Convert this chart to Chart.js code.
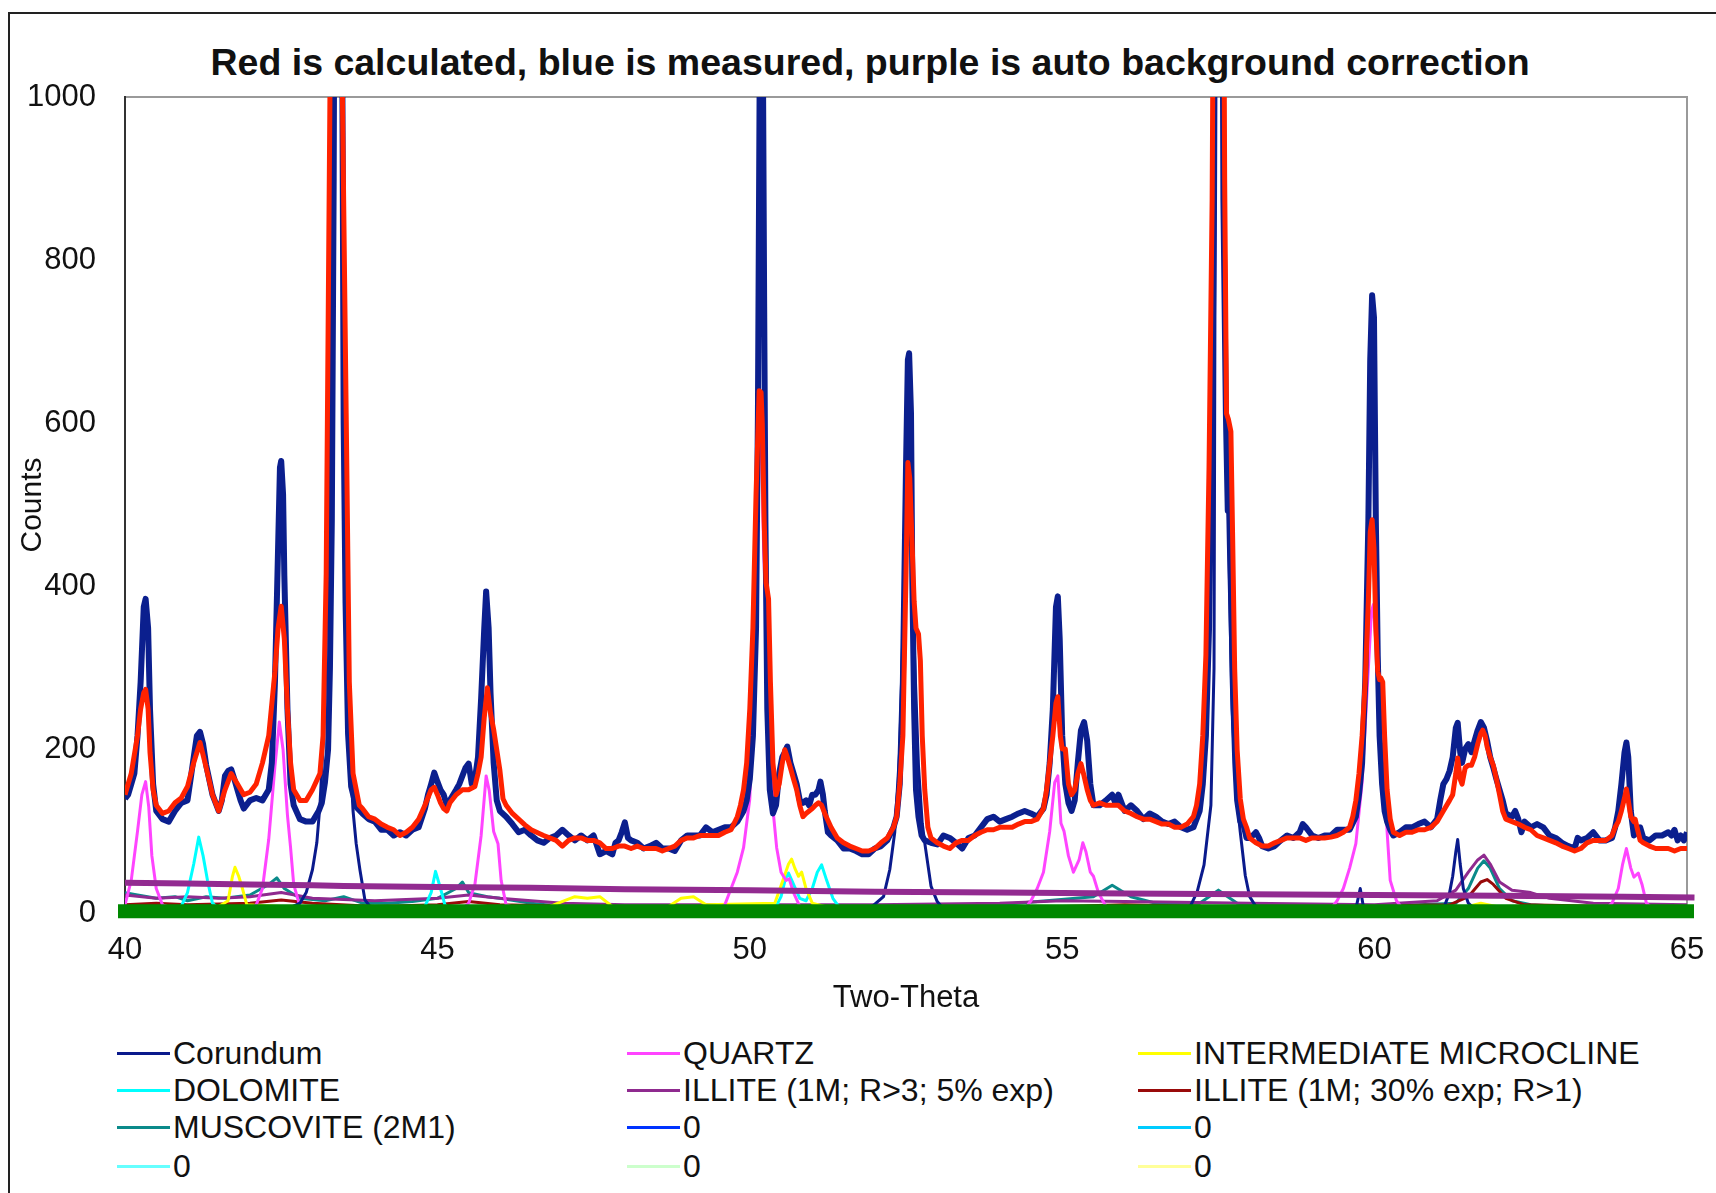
<!DOCTYPE html>
<html lang="en">
<head>
<meta charset="UTF-8">
<title>Two-Theta pattern fit</title>
<script src="https://cdn.jsdelivr.net/npm/chart.js"></script>
<style>
  body { margin: 0; background: #fff; font-family: 'Liberation Sans', Arial, sans-serif; color: #111; overflow: hidden; }
  .frame { position: absolute; left: 8px; top: 12px; width: 1720px; height: 1200px;
           border-left: 2px solid #222; border-top: 2px solid #222; }
  .title { position: absolute; left: 0; top: 41px; width: 1740px; text-align: center;
           font-weight: bold; font-size: 37.5px; line-height: 42px; }
  #wrap { position: absolute; left: 0; top: 0; width: 1716px; height: 1021px; }
  .item { position: absolute; height: 40px; line-height: 40px; font-size: 32px;
          white-space: nowrap; display: flex; align-items: center; }
  .item .swatch { width: 53px; height: 3px; margin-right: 3px; }
</style>
</head>
<body>
<div class="frame"></div>
<div class="title">Red is calculated, blue is measured, purple is auto background correction</div>
<div id="wrap"><canvas id="xrd"></canvas></div>
<div id="legend"></div>

<script>
// ---- data: [two-theta, counts] ----
const measured = [[40.0,140],[40.05,145],[40.1,158],[40.15,171],[40.2,217],[40.25,283],[40.3,375],[40.33,385],[40.37,349],[40.4,250],[40.45,158],[40.5,125],[40.6,115],[40.7,112],[40.8,125],[40.9,135],[41.0,138],[41.05,164],[41.1,191],[41.15,217],[41.2,222],[41.25,207],[41.3,181],[41.4,145],[41.5,125],[41.55,138],[41.6,168],[41.65,174],[41.7,176],[41.75,164],[41.8,151],[41.85,138],[41.9,128],[42.0,138],[42.1,141],[42.2,138],[42.3,151],[42.35,184],[42.4,283],[42.45,447],[42.48,546],[42.5,554],[42.53,513],[42.55,414],[42.6,250],[42.65,158],[42.7,132],[42.8,115],[42.9,112],[43.0,112],[43.1,125],[43.15,135],[43.2,160],[43.25,200],[43.28,300],[43.31,480],[43.34,900],[43.37,1600],[43.41,2500],[43.45,1600],[43.48,1000],[43.5,600],[43.53,380],[43.57,220],[43.62,155],[43.7,130],[43.8,122],[43.9,115],[44.0,112],[44.1,102],[44.2,102],[44.3,95],[44.4,99],[44.5,95],[44.6,102],[44.7,105],[44.8,128],[44.85,145],[44.9,158],[44.95,172],[45.0,161],[45.05,151],[45.1,145],[45.15,132],[45.2,138],[45.3,151],[45.35,158],[45.4,168],[45.45,178],[45.5,183],[45.55,158],[45.6,164],[45.65,191],[45.7,263],[45.75,349],[45.78,394],[45.82,349],[45.85,270],[45.9,184],[45.95,138],[46.0,125],[46.1,118],[46.2,109],[46.3,99],[46.4,102],[46.5,95],[46.6,89],[46.7,86],[46.8,92],[46.9,95],[47.0,102],[47.1,95],[47.2,89],[47.3,95],[47.4,89],[47.5,95],[47.6,72],[47.7,76],[47.8,72],[47.85,86],[47.9,89],[47.95,99],[48.0,111],[48.05,92],[48.1,89],[48.2,86],[48.3,79],[48.4,82],[48.5,86],[48.6,79],[48.7,79],[48.8,76],[48.9,89],[49.0,95],[49.1,95],[49.2,95],[49.3,105],[49.4,99],[49.5,102],[49.6,105],[49.7,105],[49.8,112],[49.9,125],[49.95,138],[50.0,164],[50.05,217],[50.1,349],[50.13,612],[50.17,1200],[50.2,1200],[50.23,743],[50.25,480],[50.28,250],[50.32,151],[50.37,122],[50.42,132],[50.47,171],[50.52,191],[50.56,197],[50.6,204],[50.65,184],[50.7,171],[50.75,158],[50.8,138],[50.85,135],[50.9,138],[50.95,132],[51.0,145],[51.05,145],[51.1,151],[51.13,161],[51.17,145],[51.2,125],[51.25,99],[51.3,95],[51.4,89],[51.5,79],[51.6,79],[51.7,76],[51.8,72],[51.9,72],[52.0,79],[52.1,82],[52.2,89],[52.3,105],[52.35,118],[52.4,158],[52.45,283],[52.5,546],[52.53,678],[52.55,686],[52.58,612],[52.6,414],[52.63,250],[52.66,151],[52.7,118],[52.75,95],[52.8,89],[52.9,86],[53.0,84],[53.1,95],[53.2,92],[53.3,86],[53.4,79],[53.5,92],[53.6,95],[53.7,105],[53.8,115],[53.9,118],[54.0,112],[54.1,115],[54.2,118],[54.3,122],[54.4,125],[54.5,122],[54.6,118],[54.7,128],[54.75,145],[54.8,184],[54.85,250],[54.9,375],[54.93,388],[54.96,336],[55.0,217],[55.05,158],[55.1,135],[55.15,125],[55.2,138],[55.25,184],[55.3,224],[55.35,234],[55.4,211],[55.45,158],[55.5,132],[55.6,132],[55.7,138],[55.8,145],[55.85,135],[55.9,145],[56.0,125],[56.1,132],[56.2,125],[56.3,115],[56.4,122],[56.5,118],[56.6,112],[56.7,109],[56.8,112],[56.9,105],[57.0,102],[57.1,105],[57.15,115],[57.2,125],[57.25,158],[57.3,217],[57.35,349],[57.4,612],[57.43,875],[57.46,1500],[57.5,2800],[57.55,1500],[57.58,875],[57.62,612],[57.65,493],[57.68,507],[57.7,415],[57.73,283],[57.77,184],[57.8,138],[57.85,112],[57.9,109],[57.95,92],[58.0,92],[58.05,95],[58.1,99],[58.15,92],[58.2,82],[58.3,79],[58.4,82],[58.5,89],[58.6,95],[58.7,92],[58.8,99],[58.85,109],[58.9,105],[59.0,95],[59.1,92],[59.2,95],[59.3,95],[59.4,102],[59.5,102],[59.6,102],[59.7,118],[59.75,145],[59.8,184],[59.85,283],[59.9,480],[59.93,678],[59.96,757],[59.99,730],[60.02,480],[60.05,316],[60.08,217],[60.12,158],[60.16,125],[60.2,112],[60.25,102],[60.3,95],[60.4,99],[60.5,105],[60.6,105],[60.7,109],[60.8,112],[60.9,105],[61.0,115],[61.05,138],[61.1,158],[61.15,164],[61.2,174],[61.25,191],[61.3,227],[61.33,233],[61.37,197],[61.4,184],[61.45,201],[61.5,207],[61.55,197],[61.6,211],[61.65,224],[61.7,234],[61.75,227],[61.8,211],[61.85,191],[61.9,178],[61.95,164],[62.0,151],[62.05,138],[62.1,122],[62.2,118],[62.25,125],[62.3,115],[62.35,99],[62.4,112],[62.5,105],[62.6,109],[62.7,105],[62.8,95],[62.9,92],[63.0,86],[63.1,82],[63.2,79],[63.25,92],[63.3,89],[63.4,92],[63.5,99],[63.6,89],[63.7,89],[63.8,92],[63.85,105],[63.9,125],[63.95,158],[64.0,197],[64.03,209],[64.06,191],[64.1,125],[64.15,95],[64.2,99],[64.25,105],[64.3,92],[64.4,89],[64.5,95],[64.6,95],[64.7,99],[64.75,95],[64.8,102],[64.85,89],[64.9,95],[64.95,89],[65.0,99]];

const calculated = [[40.0,145],[40.1,171],[40.2,217],[40.25,250],[40.3,270],[40.33,274],[40.37,250],[40.4,197],[40.45,151],[40.5,132],[40.6,122],[40.7,125],[40.8,135],[40.9,141],[41.0,155],[41.1,184],[41.2,209],[41.3,178],[41.4,145],[41.5,125],[41.6,151],[41.7,171],[41.8,158],[41.9,145],[42.0,148],[42.1,158],[42.2,184],[42.3,217],[42.4,296],[42.45,349],[42.5,376],[42.55,336],[42.6,250],[42.65,184],[42.7,151],[42.8,138],[42.9,138],[43.0,151],[43.12,171],[43.17,217],[43.22,415],[43.28,1000],[43.32,1600],[43.4,2600],[43.45,1500],[43.48,1000],[43.54,612],[43.59,283],[43.65,171],[43.75,132],[43.8,128],[43.9,118],[44.0,115],[44.1,109],[44.2,105],[44.3,102],[44.4,95],[44.5,99],[44.6,105],[44.7,115],[44.8,132],[44.9,151],[44.95,154],[45.0,145],[45.05,135],[45.1,128],[45.15,125],[45.2,135],[45.3,145],[45.4,151],[45.5,151],[45.6,155],[45.65,171],[45.7,191],[45.75,240],[45.8,276],[45.85,245],[45.9,225],[45.95,200],[46.0,175],[46.05,140],[46.1,132],[46.2,122],[46.3,115],[46.4,108],[46.5,102],[46.7,95],[46.9,89],[47.0,82],[47.1,89],[47.2,92],[47.3,92],[47.4,89],[47.5,89],[47.6,86],[47.7,79],[47.8,79],[47.9,82],[48.0,82],[48.1,79],[48.2,82],[48.3,79],[48.4,79],[48.5,79],[48.6,76],[48.7,79],[48.8,82],[48.9,89],[49.0,92],[49.1,92],[49.2,95],[49.3,95],[49.4,95],[49.5,95],[49.6,99],[49.7,102],[49.8,118],[49.85,132],[49.9,151],[49.95,184],[50.0,250],[50.05,349],[50.1,513],[50.15,640],[50.18,638],[50.2,599],[50.23,480],[50.26,405],[50.3,385],[50.33,283],[50.37,184],[50.42,145],[50.47,158],[50.52,184],[50.56,200],[50.6,191],[50.65,178],[50.7,164],[50.75,151],[50.8,132],[50.85,118],[50.9,122],[51.0,128],[51.05,132],[51.1,135],[51.15,132],[51.2,122],[51.3,105],[51.4,92],[51.5,86],[51.6,82],[51.7,79],[51.8,76],[51.9,76],[52.0,79],[52.1,86],[52.2,92],[52.3,105],[52.35,118],[52.4,158],[52.45,217],[52.5,415],[52.53,552],[52.56,533],[52.6,447],[52.63,382],[52.66,349],[52.7,342],[52.73,309],[52.76,217],[52.8,151],[52.85,105],[52.9,92],[53.0,86],[53.1,82],[53.2,79],[53.3,86],[53.4,89],[53.5,89],[53.6,95],[53.7,99],[53.8,102],[53.9,102],[54.0,105],[54.1,105],[54.2,105],[54.3,109],[54.4,112],[54.5,112],[54.6,115],[54.7,128],[54.75,151],[54.8,184],[54.85,217],[54.9,257],[54.93,265],[54.97,217],[55.0,201],[55.05,201],[55.1,158],[55.15,145],[55.2,151],[55.25,171],[55.3,183],[55.35,168],[55.4,151],[55.45,138],[55.5,132],[55.6,135],[55.7,132],[55.8,132],[55.9,132],[56.0,125],[56.1,122],[56.2,118],[56.3,115],[56.4,115],[56.5,112],[56.6,109],[56.7,109],[56.8,105],[56.9,105],[57.0,109],[57.1,118],[57.15,132],[57.2,158],[57.25,217],[57.3,316],[57.35,546],[57.4,875],[57.43,1300],[57.5,2800],[57.55,1800],[57.6,900],[57.63,612],[57.66,605],[57.7,590],[57.73,450],[57.76,300],[57.8,200],[57.85,140],[57.9,115],[57.95,105],[58.0,92],[58.1,86],[58.2,82],[58.3,82],[58.4,86],[58.5,89],[58.6,92],[58.7,92],[58.8,92],[58.9,89],[59.0,92],[59.1,92],[59.2,92],[59.3,93],[59.4,95],[59.5,99],[59.6,105],[59.65,118],[59.7,138],[59.75,171],[59.8,217],[59.85,283],[59.9,382],[59.93,467],[59.96,482],[59.99,447],[60.02,349],[60.05,296],[60.08,286],[60.1,288],[60.13,283],[60.16,217],[60.2,151],[60.25,115],[60.3,99],[60.4,95],[60.5,99],[60.6,99],[60.7,102],[60.8,102],[60.9,105],[61.0,112],[61.1,125],[61.2,138],[61.25,145],[61.3,171],[61.33,190],[61.37,164],[61.4,158],[61.45,178],[61.5,181],[61.55,181],[61.6,191],[61.65,207],[61.7,220],[61.73,224],[61.77,217],[61.8,204],[61.85,191],[61.9,181],[61.95,164],[62.0,145],[62.05,125],[62.1,115],[62.2,112],[62.3,109],[62.4,105],[62.5,102],[62.6,95],[62.7,92],[62.8,89],[62.9,86],[63.0,82],[63.1,79],[63.2,76],[63.3,79],[63.4,86],[63.5,89],[63.6,89],[63.7,89],[63.8,95],[63.85,105],[63.9,112],[63.95,125],[64.0,141],[64.03,152],[64.06,138],[64.1,118],[64.15,112],[64.17,115],[64.2,105],[64.25,89],[64.3,86],[64.4,82],[64.5,79],[64.6,79],[64.7,79],[64.8,76],[64.9,79],[65.0,79]];

const background = [[40,37],[41,36],[42,35],[43,34],[43.5,33],[45,32],[46.5,31],[48,29],[50,28],[52,26],[54,25],[56,24],[58,23],[60,22],[62,21],[64,20],[65.12,19]];

const corundum = [[40,3],[41,3],[42,2],[42.6,5],[42.8,12],[42.9,25],[43.0,53],[43.07,86],[43.12,132],[43.2,250],[43.27,550],[43.32,1100],[43.37,2000],[43.41,2500],[43.45,2000],[43.5,900],[43.55,400],[43.6,200],[43.65,125],[43.7,85],[43.76,53],[43.84,16],[43.95,5],[46,2],[50,2],[51.9,4],[52.14,20],[52.24,53],[52.32,99],[52.4,200],[52.47,400],[52.55,600],[52.62,350],[52.7,180],[52.76,110],[52.8,86],[52.9,33],[53.0,14],[53.1,5],[56.9,4],[57.05,8],[57.16,26],[57.27,59],[57.38,132],[57.43,300],[57.47,1500],[57.5,2800],[57.54,1500],[57.6,700],[57.66,450],[57.72,250],[57.78,150],[57.85,99],[57.93,46],[58.0,20],[58.1,8],[58.3,3],[59.7,5],[59.77,30],[59.82,8],[61.1,5],[61.2,25],[61.25,45],[61.3,75],[61.33,90],[61.37,60],[61.42,30],[61.5,12],[61.6,5],[62,3],[65,2]];

const quartz = [[40,10],[40.1,40],[40.2,100],[40.27,145],[40.33,161],[40.38,130],[40.43,70],[40.5,30],[40.6,10],[40.8,5],[42.0,5],[42.1,10],[42.2,30],[42.3,90],[42.4,180],[42.47,234],[42.53,200],[42.6,120],[42.65,80],[42.7,35],[42.8,8],[43.0,5],[45.4,5],[45.5,12],[45.6,35],[45.7,95],[45.78,168],[45.83,150],[45.9,100],[45.97,85],[46.02,40],[46.1,10],[46.3,5],[49.5,5],[49.6,10],[49.7,30],[49.8,50],[49.9,80],[50.0,140],[50.05,250],[50.1,430],[50.15,580],[50.18,600],[50.22,450],[50.26,360],[50.3,350],[50.34,230],[50.38,120],[50.43,80],[50.5,50],[50.58,40],[50.63,42],[50.7,25],[50.8,8],[50.9,5],[54.4,5],[54.5,15],[54.6,30],[54.7,50],[54.8,100],[54.88,160],[54.93,168],[54.98,110],[55.03,100],[55.1,70],[55.18,50],[55.27,65],[55.33,86],[55.38,75],[55.45,50],[55.5,45],[55.58,25],[55.7,8],[55.8,5],[59.3,5],[59.4,15],[59.5,30],[59.6,55],[59.7,85],[59.8,160],[59.9,300],[59.95,370],[59.98,378],[60.03,320],[60.07,260],[60.1,205],[60.15,200],[60.2,100],[60.25,40],[60.35,15],[60.45,5],[63.7,5],[63.8,12],[63.9,30],[63.97,60],[64.03,79],[64.1,55],[64.15,44],[64.22,49],[64.28,35],[64.35,12],[64.45,5],[65,5]];

const microcline = [[40,5],[41.5,8],[41.65,15],[41.72,45],[41.76,56],[41.82,45],[41.88,30],[41.95,10],[42.5,8],[44,6],[46.8,8],[47.2,20],[47.4,18],[47.6,20],[47.8,8],[48.7,8],[48.9,18],[49.1,20],[49.3,10],[50.4,12],[50.53,40],[50.62,60],[50.67,66],[50.72,55],[50.78,45],[50.83,50],[50.9,30],[51.0,12],[51.2,8],[55,8],[58,6],[61.5,8],[61.7,12],[62,7],[65,6]];

const dolomite = [[40,5],[40.9,8],[41.0,25],[41.1,60],[41.18,93],[41.25,70],[41.32,40],[41.4,12],[41.5,5],[44.8,8],[44.9,25],[44.97,51],[45.05,30],[45.12,10],[45.2,5],[50.4,5],[50.5,20],[50.57,42],[50.62,49],[50.7,35],[50.8,18],[50.9,15],[51.0,30],[51.08,50],[51.15,59],[51.23,40],[51.33,18],[51.45,5],[65,5]];

const illiteR3 = [[40,22],[40.5,18],[41,20],[41.5,18],[42,20],[42.5,25],[43,18],[44,15],[45,18],[45.5,22],[46,18],[47,12],[48,10],[50,10],[52,10],[54,12],[55,15],[56,14],[58,12],[60,10],[61.0,15],[61.3,28],[61.5,50],[61.65,65],[61.75,71],[61.85,60],[62.0,38],[62.2,28],[62.5,25],[62.8,18],[63.5,12],[65,10]];

const illite30 = [[40,10],[40.5,12],[41,10],[42,12],[42.5,16],[43,12],[44,8],[45,10],[45.5,14],[46,10],[48,7],[52,7],[55,8],[56,10],[58,7],[61.2,10],[61.5,20],[61.7,38],[61.8,41],[61.9,35],[62.1,18],[62.4,10],[65,6]];

const muscovite = [[40,25],[40.2,22],[40.5,18],[40.8,20],[41.0,15],[41.3,20],[41.6,18],[42.0,22],[42.3,35],[42.43,43],[42.55,30],[42.8,18],[43.2,15],[43.5,20],[43.8,12],[44.2,12],[44.6,14],[45.0,18],[45.3,30],[45.4,38],[45.5,25],[45.8,20],[46.0,18],[46.5,12],[47,8],[48,6],[50,6],[52,7],[54,10],[55.5,20],[55.8,34],[56.1,20],[56.5,12],[57.2,12],[57.5,28],[57.8,12],[58.5,8],[60,8],[61.3,12],[61.5,30],[61.65,55],[61.75,64],[61.85,55],[62.0,30],[62.2,15],[62.5,10],[63,8],[65,8]];

const zeroLine = [[40,0],[65,0]];
const baseBand = [[40,2],[65,2]];

const xTicks = [40, 45, 50, 55, 60, 65];
const yTicks = [0, 200, 400, 600, 800, 1000];

// legend entries, row by row in three columns
const phaseNames = ['Corundum', 'QUARTZ', 'INTERMEDIATE MICROCLINE',
                    'DOLOMITE', 'ILLITE (1M; R>3; 5% exp)', 'ILLITE (1M; 30% exp; R>1)',
                    'MUSCOVITE (2M1)', '0', '0',
                    '0', '0', '0'];
const phaseData = [corundum, quartz, microcline, dolomite, illiteR3, illite30,
                   muscovite, zeroLine, zeroLine, zeroLine, zeroLine, zeroLine];
const phaseColors = ['#0a1a8c', '#ff44ff', '#ffff00', '#00ffff', '#8f2a8f', '#990a0a',
                     '#0a8a8a', '#0033ff', '#00ccff', '#66ffff', '#ccffcc', '#ffff99'];

const toXY = arr => arr.map(p => ({ x: p[0], y: p[1] }));

const datasets = [
  { label: 'calculated', data: toXY(calculated), borderColor: '#ff2200', borderWidth: 5, order: 0 },
  { label: 'measured', data: toXY(measured), borderColor: '#0b1f8e', borderWidth: 6, order: 1 },
  { label: 'background', data: toXY(background), borderColor: '#922b90', borderWidth: 6, order: 2, clip: false },
  { label: 'base', data: toXY(baseBand), borderColor: '#008800', borderWidth: 14, order: 3,
    borderCapStyle: 'square', clip: false }
];
phaseNames.forEach((name, i) => {
  datasets.push({ label: name, data: toXY(phaseData[i]), borderColor: phaseColors[i],
                  borderWidth: 3, order: 4 + i });
});

const plotFrame = {
  id: 'plotFrame',
  beforeDatasetsDraw(chart) {
    const { ctx, chartArea: a } = chart;
    ctx.save();
    ctx.lineWidth = 2;
    ctx.strokeStyle = '#9a9a9a';
    ctx.beginPath();
    ctx.moveTo(a.left, a.top);
    ctx.lineTo(a.right, a.top);
    ctx.lineTo(a.right, a.bottom);
    ctx.stroke();
    ctx.strokeStyle = '#333';
    ctx.beginPath();
    ctx.moveTo(a.left, a.top - 1);
    ctx.lineTo(a.left, a.bottom);
    ctx.stroke();
    ctx.restore();
  }
};

Chart.defaults.font.family = "'Liberation Sans', Arial, sans-serif";
Chart.defaults.color = '#111';

new Chart(document.getElementById('xrd'), {
  type: 'line',
  data: { datasets },
  options: {
    responsive: true,
    maintainAspectRatio: false,
    animation: false,
    elements: { point: { radius: 0 }, line: { tension: 0, borderJoinStyle: 'round' } },
    layout: { padding: { left: 11, right: 29, top: 97, bottom: 0 } },
    plugins: { legend: { display: false }, tooltip: { enabled: false }, title: { display: false } },
    scales: {
      x: {
        type: 'linear', min: 40, max: 65,
        afterBuildTicks: s => { s.ticks = xTicks.map(v => ({ value: v })); },
        // fixed height; end labels may hang over the side padding
        afterFit: s => { s.height = 108; s.paddingLeft = 0; s.paddingRight = 0; },
        grid: { display: false, drawTicks: false },
        border: { display: false },
        ticks: { font: { size: 31 }, padding: 19, callback: v => String(v) },
        title: { display: true, text: 'Two-Theta', font: { size: 31 } }
      },
      y: {
        min: 0, max: 1000,
        afterBuildTicks: s => { s.ticks = yTicks.map(v => ({ value: v })); },
        afterFit: s => { s.width = 114; },
        grid: { display: false, drawTicks: false },
        border: { display: false },
        ticks: { font: { size: 31 }, padding: 29, callback: v => String(v) },
        title: { display: true, text: 'Counts', font: { size: 30 } }
      }
    }
  },
  plugins: [plotFrame]
});

// legend below the plot, three columns
const colLeft = [117, 627, 1138];
const rowMid = [1053, 1090, 1127, 1166];
const legend = document.getElementById('legend');
phaseNames.forEach((name, i) => {
  const item = document.createElement('div');
  item.className = 'item';
  item.style.left = colLeft[i % 3] + 'px';
  item.style.top = (rowMid[Math.floor(i / 3)] - 20) + 'px';
  const sw = document.createElement('span');
  sw.className = 'swatch';
  sw.style.background = phaseColors[i];
  item.appendChild(sw);
  item.appendChild(document.createTextNode(name));
  legend.appendChild(item);
});
</script>
</body>
</html>
